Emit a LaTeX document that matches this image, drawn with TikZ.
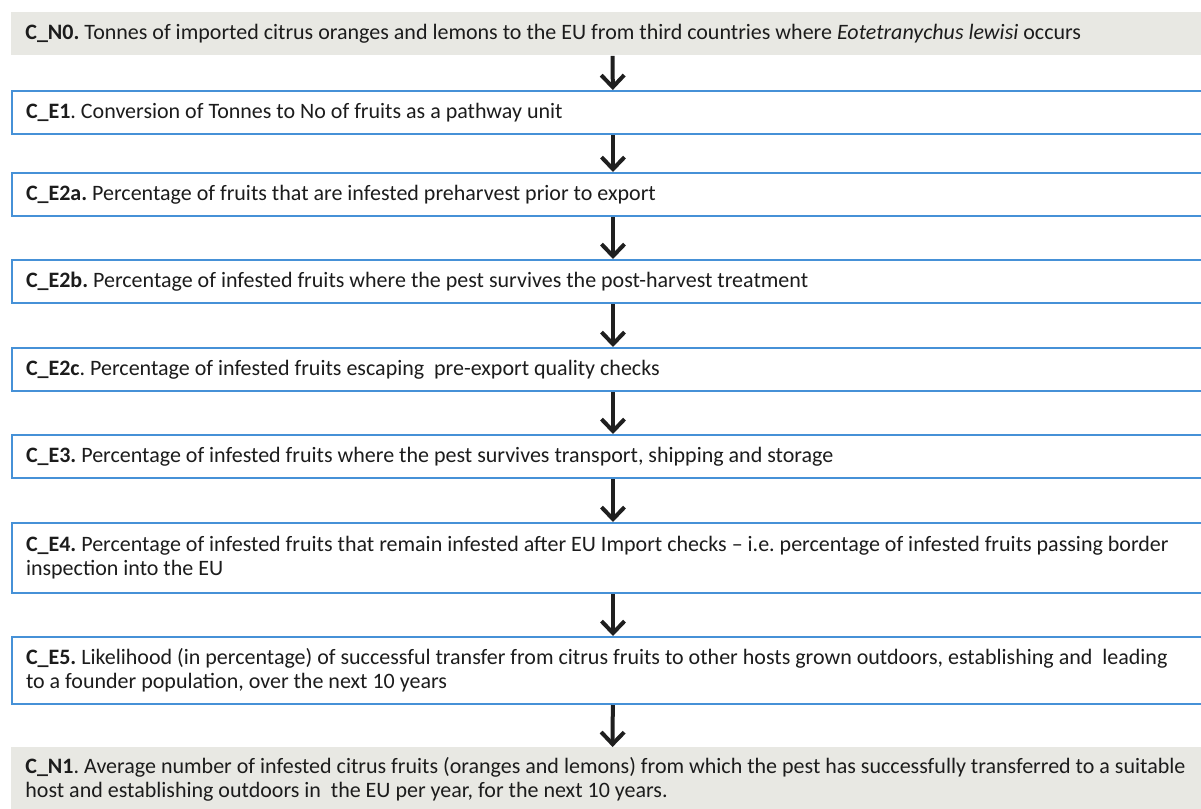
\documentclass[tikz,border=0pt]{standalone}
\usepackage{fontspec}
\setmainfont{Carlito}
\usetikzlibrary{arrows.meta}
\definecolor{boxblue}{RGB}{70,145,215}
\definecolor{boxgray}{RGB}{232,232,227}
\definecolor{txt}{RGB}{28,28,28}
\newcommand{\ws}{\spaceskip=0.226em plus 0.05em\relax\xspaceskip=0.226em\relax\hyphenpenalty=10000\relax}
\begin{document}
\begin{tikzpicture}[x=0.5pt,y=-0.5pt,
  base/.style={anchor=north west, rectangle, inner xsep=7pt, inner ysep=0pt,
    text width=587pt, align=left, font=\fontsize{11}{12}\selectfont, text=txt},
  gbox/.style={base, fill=boxgray},
  bbox/.style={base, draw=boxblue, line width=1pt, fill=white},
  arr/.style={-{Straight Barb[length=6pt,width=11.5pt]}, line width=2pt, black!88}]
\useasboundingbox (0,0) rectangle (1201,809);
\clip (0,0) rectangle (1201,809);
\node[gbox, minimum height=21.5pt] (n0) at (11,12) {\ws\textbf{C\_N0.} Tonnes of imported citrus oranges and lemons to the EU from third countries where \textit{Eotetranychus lewisi} occurs};
\node[bbox, minimum height=21.5pt] (e1) at (11,90) {\ws\textbf{C\_E1}. Conversion of Tonnes to No of fruits as a pathway unit};
\node[bbox, minimum height=21.5pt] (e2a) at (11,172) {\ws\textbf{C\_E2a.} Percentage of fruits that are infested preharvest prior to export};
\node[bbox, minimum height=21.5pt] (e2b) at (11,259) {\ws\textbf{C\_E2b.} Percentage of infested fruits where the pest survives the post-harvest treatment};
\node[bbox, minimum height=21.5pt] (e2c) at (11,347) {\ws\textbf{C\_E2c}. Percentage of infested fruits escaping \ pre-export quality checks};
\node[bbox, minimum height=21.5pt] (e3) at (11,434) {\ws\textbf{C\_E3.} Percentage of infested fruits where the pest survives transport, shipping and storage};
\node[bbox, minimum height=35pt] (e4) at (11,522) {\ws\textbf{C\_E4.} Percentage of infested fruits that remain infested after EU Import checks -- i.e. percentage of infested fruits passing border\\inspection into the EU};
\node[bbox, minimum height=33.5pt] (e5) at (11,636) {\ws\textbf{C\_E5.} Likelihood (in percentage) of successful transfer from citrus fruits to other hosts grown outdoors, establishing and \ leading\\to a founder population, over the next 10 years};
\node[gbox, minimum height=32pt] (n1) at (11,747) {\ws\textbf{C\_N1}. Average number of infested citrus fruits (oranges and lemons) from which the pest has successfully transferred to a suitable\\host and establishing outdoors in \ the EU per year, for the next 10 years.};
\draw[arr] (n0) -- (e1);
\draw[arr] (e1) -- (e2a);
\draw[arr] (e2a) -- (e2b);
\draw[arr] (e2b) -- (e2c);
\draw[arr] (e2c) -- (e3);
\draw[arr] (e3) -- (e4);
\draw[arr] (e4) -- (e5);
\draw[arr] (e5) -- (n1);
\end{tikzpicture}
\end{document}
